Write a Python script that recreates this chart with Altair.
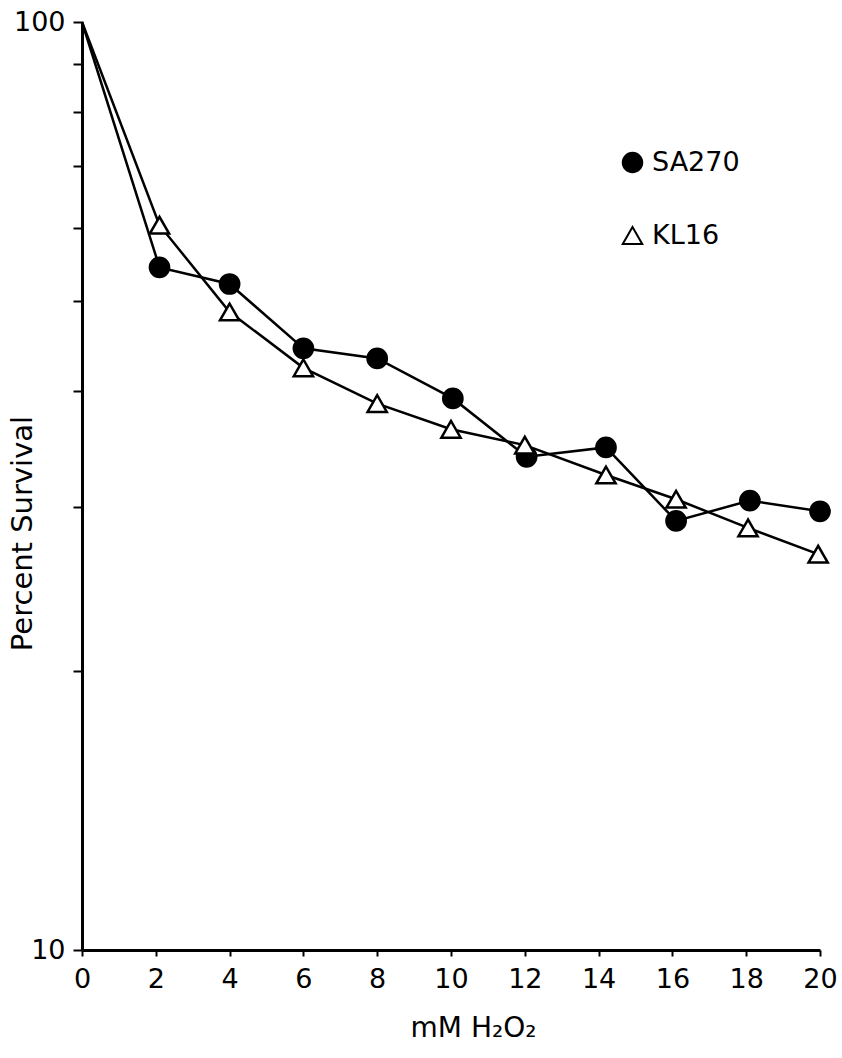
import altair as alt
import pandas as pd

# ---- data ----
sa270_x = [0, 2.1, 4, 6, 8, 10.05, 12.05, 14.2, 16.1, 18.1, 20]
sa270_y = [100, 54.4, 52.2, 44.5, 43.4, 39.3, 34.0, 34.8, 29.0, 30.5, 29.7]
kl16_x = [0, 2.1, 4, 6, 8, 10, 12, 14.2, 16.1, 18.05, 19.95]
kl16_y = [100, 60.4, 48.7, 42.4, 38.8, 36.4, 35.0, 32.5, 30.6, 28.5, 26.7]
strains = ["SA270", "KL16"]
x_ticks = [0, 2, 4, 6, 8, 10, 12, 14, 16, 18, 20]
y_ticks = [10, 20, 30, 40, 50, 60, 70, 80, 90, 100]

rows = []
for x, y in zip(sa270_x, sa270_y):
    rows.append({"strain": "SA270", "mM": x, "survival": y})
for x, y in zip(kl16_x, kl16_y):
    rows.append({"strain": "KL16", "mM": x, "survival": y})
df = pd.DataFrame(rows)

FONT = "DejaVu Sans"

x_enc = alt.X(
    "mM:Q",
    scale=alt.Scale(domain=[0, 20], nice=False, zero=False),
    axis=alt.Axis(
        values=x_ticks, format="d", title="mM H\u2082O\u2082",
        grid=False, domainColor="black", domainWidth=3, tickColor="black",
        tickWidth=2, tickSize=6, labelPadding=10, labelFontSize=27,
        labelFont=FONT, labelColor="black", titleFont=FONT, titleFontSize=28,
        titleFontWeight="normal", titleColor="black", titleX=391, titleY=86,
        titleAlign="center", titleBaseline="alphabetic", labelFlush=False,
    ),
)
y_enc = alt.Y(
    "survival:Q",
    scale=alt.Scale(type="log", domain=[10, 100], nice=False),
    axis=alt.Axis(
        values=y_ticks, title="Percent Survival",
        labelExpr="datum.value == 10 || datum.value == 100 ? format(datum.value, 'd') : ''",
        grid=False, domainColor="black", domainWidth=3, tickColor="black",
        tickWidth=2, tickSize=9, labelPadding=8, labelFontSize=27,
        labelFont=FONT, labelColor="black", titleFont=FONT, titleFontSize=29,
        titleFontWeight="normal", titleColor="black", titleX=-60, titleY=511,
        titleAngle=270, titleAlign="center", titleBaseline="middle",
        labelFlush=False,
    ),
)

lines = alt.Chart(df).mark_line(color="black", strokeWidth=2.5).encode(
    x=x_enc, y=y_enc, detail="strain:N", order="mM:Q"
)

legend = alt.Legend(
    title=None, orient="none", legendX=537, legendY=127,
    labelFont=FONT, labelFontSize=27, labelColor="black",
    symbolStrokeWidth=2, symbolSize=380, rowPadding=44, labelOffset=6,
)

points = alt.Chart(df).transform_filter(
    "datum.mM > 0"
).mark_point(
    filled=False, strokeWidth=2.5, opacity=1, size=370
).encode(
    x="mM:Q",
    y="survival:Q",
    shape=alt.Shape(
        "strain:N",
        scale=alt.Scale(domain=strains, range=["circle", "triangle-up"]),
        legend=legend,
    ),
    fill=alt.Fill(
        "strain:N",
        scale=alt.Scale(domain=strains, range=["black", "white"]),
        legend=legend,
    ),
    stroke=alt.Stroke(
        "strain:N",
        scale=alt.Scale(domain=strains, range=["black", "black"]),
        legend=legend,
    ),
)

chart = (
    alt.layer(lines, points)
    .properties(
        width=738,
        height=928,
        autosize=alt.AutoSizeParams(type="none"),
        padding={"left": 82, "top": 22, "right": 22, "bottom": 108},
        background="white",
    )
    .configure_view(stroke=None)
)

chart.save("out.html", embed_options={"renderer": "svg", "actions": False})
